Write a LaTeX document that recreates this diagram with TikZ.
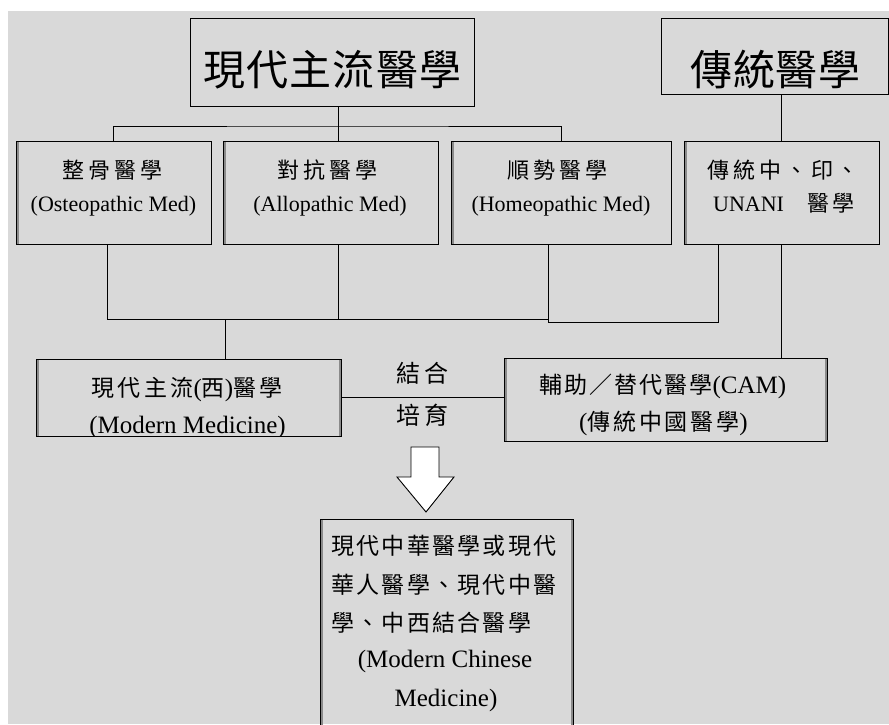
\documentclass[tikz,border=0pt]{standalone}
\usepackage{fontspec}
\setmainfont{Liberation Serif}
\newfontfamily\cjk{Noto Sans CJK TC}
\newcommand\zh[3]{{\fontsize{#1}{#1}\cjk\addfontfeature{LetterSpace=#2}#3}}
\definecolor{bg}{HTML}{D9D9D9}
\definecolor{strip}{HTML}{8A8A8A}
\tikzset{
  box/.style={draw=black, line width=1pt, inner sep=0pt},
  lbox/.style={box, path picture={\fill[strip] ([xshift=0.5pt]path picture bounding box.south west) rectangle ([xshift=2.5pt]path picture bounding box.north west);}},
  lrbox/.style={box, path picture={\fill[strip] ([xshift=0.5pt]path picture bounding box.south west) rectangle ([xshift=2.5pt]path picture bounding box.north west);
     \fill[strip] ([xshift=-2.5pt]path picture bounding box.south east) rectangle ([xshift=-0.5pt]path picture bounding box.north east);}},
  conn/.style={draw=black, line width=0.9pt},
  txt/.style={anchor=base west, inner sep=0pt},
  ctxt/.style={anchor=base, inner sep=0pt},
  lat/.style={font=\fontsize{22}{26}\selectfont},
  latb/.style={font=\fontsize{25}{30}\selectfont},
  blockarrow/.style={draw=black, line width=0.9pt, fill=white, line join=miter}
}
\begin{document}
\begin{tikzpicture}[x=1pt,y=-1pt]
\useasboundingbox (0,0) rectangle (889,724);
\fill[white] (0,0) rectangle (889,724);
\fill[bg] (8,11) rectangle (889,724);

% boxes
\node[box, minimum width=284, minimum height=88] (main) at (332,62) {};
\node[box, minimum width=227, minimum height=76] (trad) at (774.5,56) {};
\node[lbox, minimum width=195, minimum height=103] (b1) at (113.5,192.5) {};
\node[lbox, minimum width=215, minimum height=103] (b2) at (330.5,192.5) {};
\node[lbox, minimum width=220, minimum height=103] (b3) at (561,192.5) {};
\node[lbox, minimum width=195, minimum height=103] (b4) at (781.5,192.5) {};
\node[lrbox, minimum width=305, minimum height=77] (mm) at (188.5,397.5) {};
\node[lrbox, minimum width=323, minimum height=83] (cam) at (665.5,399.5) {};
\node[lrbox, minimum width=253, minimum height=230] (fin) at (446.5,634) {};

% texts
\node[txt] (tmain) at (203,85) {\zh{42}{3}{現代主流醫學}};
\node[txt] (ttrad) at (690,85) {\zh{42}{2}{傳統醫學}};
\node[txt] (t1a) at (62,178) {\zh{22}{18}{整骨醫學}};
\node[ctxt, lat] (t1b) at (113.5,211) {(Osteopathic Med)};
\node[txt] (t2a) at (277,178) {\zh{22}{18}{對抗醫學}};
\node[ctxt, lat] (t2b) at (330,211) {(Allopathic Med)};
\node[txt] (t3a) at (507,178) {\zh{22}{18}{順勢醫學}};
\node[ctxt, lat] (t3b) at (561,211) {(Homeopathic Med)};
\node[txt] (t4a) at (707,178) {\zh{22}{18}{傳統中、印、}};
\node[txt, lat] (t4b) at (713,211) {UNANI\hspace{23pt}\zh{22}{14}{醫學}};

\node[txt, latb] (mma) at (91,396) {\zh{23}{15}{現代主流}(\zh{23}{15}{西})\zh{23}{15}{醫學}};
\begin{scope}
\clip (mm.north west) rectangle (mm.south east);
\node[ctxt, latb] (mmb) at (187.5,433) {(Modern Medicine)};
\end{scope}
\node[txt, latb] (cama) at (539,393) {\zh{23}{9}{輔助／替代醫學}(CAM)};
\node[txt, latb] (camb) at (579,430) {(\zh{23}{12}{傳統中國醫學})};

\node[txt] (jie) at (396,382) {\zh{24}{16}{結合}};
\node[txt] (pei) at (396,424) {\zh{24}{16}{培育}};

\node[txt] (f1) at (331,554) {\zh{23}{10}{現代中華醫學或現代}};
\node[txt] (f2) at (331,593) {\zh{23}{10}{華人醫學、現代中醫}};
\node[txt] (f3) at (331,631) {\zh{23}{10}{學、中西結合醫學}};
\node[ctxt, latb] (f4) at (445,667) {(Modern Chinese};
\node[ctxt, latb] (f5) at (446,706) {Medicine)};

% connectors
\coordinate (j1) at (338,126);
\coordinate (j2) at (225,319);
\coordinate (k1) at (107,319);
\coordinate (k3) at (548,319);
\coordinate (k4) at (718,322);
\draw[conn] (main.south -| j1) -- (b2.north -| j1);
\draw[conn] (b1.north) |- (j1) -| (b3.north);
\draw[conn] (trad.south -| b4.north) -- (b4.north);
\draw[conn] (b4.south) -- (b4.south |- cam.north);
\draw[conn] (b1.south -| k1) |- (k3);
\draw[conn] (b3.south -| k3) |- (k4) -- (b4.south -| k4);
\draw[conn] (b2.south -| j1) -- (j1 |- k3);
\draw[conn] (mm.north -| j2) -- (j2);
\draw[conn] (mm.east) -- (mm.east -| cam.west);

% block arrow
\draw[blockarrow] (411,447) -- (439,447) -- (439,477) -- (454,477) -- (426,512) -- (397,477) -- (411,477) -- cycle;
\end{tikzpicture}
\end{document}
